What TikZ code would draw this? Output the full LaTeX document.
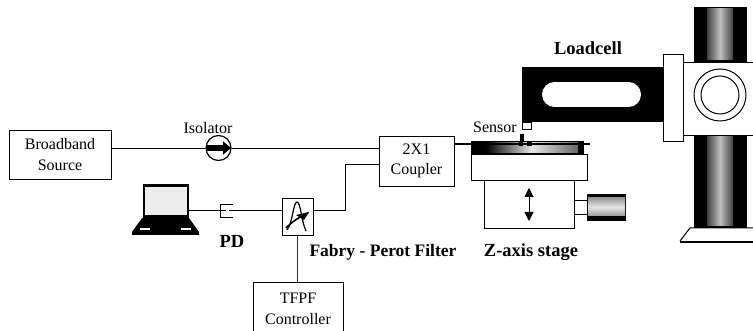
\documentclass[tikz,border=0pt]{standalone}
\usepackage{fontspec}
\setmainfont{Liberation Serif}
\usetikzlibrary{arrows.meta}

\begin{document}
\begin{tikzpicture}[x=1pt,y=-1pt,
    boxed/.style={draw,line width=0.8pt,inner sep=0pt,align=center,font=\fontsize{16}{20.5}\selectfont},
    smalltext/.style={inner sep=0pt,font=\fontsize{16}{20}\selectfont},
    bigtext/.style={inner sep=0pt,font=\fontsize{18.5}{20}\selectfont\bfseries},
    link/.style={line width=0.9pt},
    glow/.style={left color=black!75,right color=black!75,middle color=white!75!black}]
    \useasboundingbox (0,0) rectangle (753,331);

    % optical part
    \node[boxed,minimum width=102pt,minimum height=49pt] (source) at (60,154.5) {Broadband\\Source};
    \node[boxed,minimum width=75pt,minimum height=50pt] (coupler) at (416.5,161) {2X1\\Coupler};
    \node[boxed,minimum width=31pt,minimum height=37pt] (filter) at (297.5,216.5) {};
    \node[boxed,minimum width=90pt,minimum height=54pt] (controller) at (298,309) {TFPF\\Controller};
    \node[draw,circle,line width=1.2pt,minimum size=25pt,inner sep=0pt] (isolator) at (218.5,148) {};
    \node[smalltext] (isolatorlabel) at (208,128) {Isolator};
    \node[smalltext] (sensorlabel) at (495,127) {Sensor};
    \node[bigtext] (pdlabel) at (232,241) {PD};
    \node[bigtext,font=\fontsize{17.5}{20}\selectfont\bfseries] (filterlabel) at (383,252) {Fabry - Perot Filter};
    \node[bigtext] (stagelabel) at (531,252) {Z-axis stage};
    \node[bigtext] (cell) at (588,48) {Loadcell};

    \draw[line width=6pt,-{Triangle[length=8pt,width=13pt]}] (206,148) -- (231,148);
    \draw[link] (source.east |- isolator) -- (isolator.west);
    \draw[link] (isolator.east) -- (isolator -| coupler.west);
    \coordinate (bend) at (345,210);
    \draw[link] (filter.east |- bend) -- (bend) -- (345,164) -- (coupler.west |- 0,164);
    \draw[line width=1.2pt,black!80] (filter.south) -- (controller.north -| filter.south);

    % filter curves
    \draw[line width=1.2pt] (287,230) .. controls (293,222) and (293,203) .. (297,202) .. controls (301,203) and (301,220) .. (306,231);
    \draw[line width=1.6pt] (286,228) .. controls (292,222) and (296,219) .. (308,213);
    \fill (296,215) -- (309,212) -- (304,220) -- cycle;

    % photodiode
    \node[inner sep=0pt,minimum size=0pt] (pd) at (226,210) {};
    \draw[line width=0.8pt] (233,204) -- (220,204) -- (220,217) -- (233,217);
    \draw[link] (229,210) -- (filter.west |- pd);

    % laptop
    \node[draw,line width=2.5pt,fill=white!93!black,minimum width=44pt,minimum height=31pt,inner sep=0pt] (laptop) at (166,201) {};
    \fill (142,218) -- (189,218) -- (199,232) -- (199,235) -- (132,235) -- (132,232) -- cycle;
    \fill[white] (140,228) rectangle (150,230);
    \fill[white] (181,228) rectangle (191,230);
    \draw[link] (laptop.east |- pd) -- (pd.west);

    % stage
    \draw[line width=0.9pt] (471,154) rectangle (587,180);
    \node[draw,line width=0.9pt,minimum width=90pt,minimum height=48pt,inner sep=0pt] (zbox) at (529,204) {};
    \draw[line width=0.8pt] (574,200) rectangle (587,214);
    \fill (587,194) rectangle (626,221);
    \shade[top color=white!60!black,bottom color=white!60!black,middle color=white!90!black] (588,198) rectangle (625,216);
    \draw[line width=1pt,{Triangle[length=9pt,width=9pt]}-{Triangle[length=9pt,width=9pt]}] (529,188) -- (529,221);

    % sensor plate
    \fill (471,141) rectangle (584,154);
    \shade[left color=black,right color=black!60,middle color=white!90!black] (486,143) rectangle (578,153);
    \draw[line width=1.2pt] (coupler.east |- 0,144) -- (590,144);
    \fill (520,134) rectangle (524,141);
    \fill (519,141) rectangle (523,146);
    \fill (527,142) rectangle (532,146);

    % load cell
    \fill (522,67) rectangle (663,122);
    \fill[white] (554.5,82) rectangle (628.5,107);
    \fill[white] (554.5,94.5) circle (12.5);
    \fill[white] (628.5,94.5) circle (12.5);
    \draw[line width=0.8pt] (522,122) rectangle (531,129);

    % column
    \fill (694,7) rectangle (747,62);
    \shade[glow] (707,9) rectangle (733,60);
    \fill (694,135) rectangle (747,228);
    \shade[glow] (707,136) rectangle (733,226);
    \draw[line width=0.8pt] (683,62) -- (753,62);
    \draw[line width=0.8pt] (683,135) -- (753,135);
    \draw[line width=0.8pt,fill=white] (663,54) rectangle (683,141);
    \draw[line width=1pt] (720,95) circle (26);
    \draw[line width=1pt] (720,95) circle (19);
    \draw[line width=1pt] (753,228) -- (690,228) -- (680,241);
    \draw[line width=1.8pt] (680,242) -- (753,242);
\end{tikzpicture}
\end{document}
